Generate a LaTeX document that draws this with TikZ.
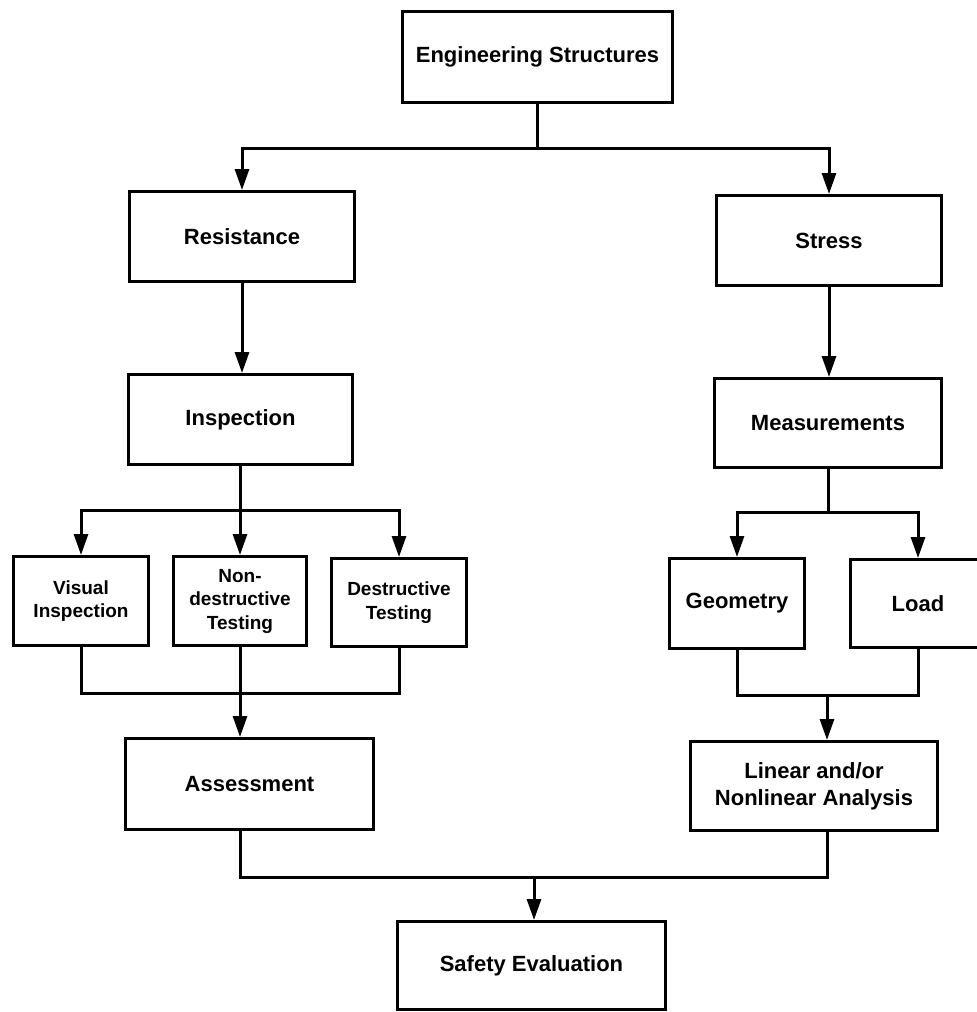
\documentclass[tikz,border=0pt]{standalone}
\usepackage{fontspec}
\setmainfont{Liberation Sans}
\usetikzlibrary{arrows.meta}
\begin{document}
\begin{tikzpicture}[x=1pt,y=-1pt,
  box/.style={draw,line width=3pt,inner sep=0pt,align=center,
    font=\bfseries\fontsize{22}{27}\selectfont},
  bigbox/.style={box},
  smallbox/.style={box,font=\bfseries\fontsize{19}{23.5}\selectfont},
  conn/.style={line width=3pt},
  arr/.style={conn,-{Triangle[length=21pt,width=14pt]}}]
\useasboundingbox (0,0) rectangle (977,1012);
% boxes
\node[bigbox,minimum width=270,minimum height=91] (eng) at (537.5,57) {Engineering Structures};
\node[bigbox,minimum width=225,minimum height=90] (res) at (242,236.5) {Resistance};
\node[bigbox,minimum width=225,minimum height=90] (str) at (829,240.5) {Stress};
\node[bigbox,minimum width=224,minimum height=90] (insp) at (240.5,419.5) {Inspection};
\node[bigbox,minimum width=227,minimum height=89] (meas) at (828,423) {Measurements};
\node[smallbox,minimum width=135,minimum height=89] (vis) at (81,601) {Visual\\Inspection};
\node[smallbox,minimum width=133,minimum height=89] (ndt) at (240,601) {Non-\\destructive\\Testing};
\node[smallbox,minimum width=135,minimum height=88] (dt) at (399,602.5) {Destructive\\Testing};
\node[bigbox,minimum width=135,minimum height=90] (geo) at (737,603.5) {Geometry};
\node[bigbox,minimum width=135,minimum height=88] (load) at (918,603.5) {Load};
\node[bigbox,minimum width=248,minimum height=91] (ass) at (249.5,784) {Assessment};
\node[bigbox,minimum width=247,minimum height=89] (lin) at (814,786) {Linear and/or\\Nonlinear Analysis};
\node[bigbox,minimum width=268,minimum height=88] (saf) at (531.5,965.5) {Safety Evaluation};
% junctions
\coordinate (j1) at (537.5,148);
\coordinate (j2) at (240,510);
\coordinate (j3) at (828,512);
\coordinate (j4) at (240,693);
\coordinate (j5) at (827,695);
\coordinate (j6) at (534,877);
% connectors
\draw[conn] (eng.south) -- (j1);
\draw[arr] (j1) -| (res.north);
\draw[arr] (j1) -| (str.north);
\draw[arr] (res.south) -- (res.south |- insp.north);
\draw[arr] (str.south) -- (str.south |- meas.north);
\draw[conn] (insp.south -| j2) -- (j2);
\draw[arr] (j2) -| (vis.north);
\draw[arr] (j2) -- (ndt.north);
\draw[arr] (j2) -| (dt.north);
\draw[conn] (meas.south -| j3) -- (j3);
\draw[arr] (j3) -| (geo.north);
\draw[arr] (j3) -| (load.north);
\draw[conn] (vis.south) |- (j4) -| (dt.south);
\draw[arr] (ndt.south) -- (ndt.south |- ass.north);
\draw[conn] (geo.south) |- (j5) -| (load.south);
\draw[arr] (j5) -- (j5 |- lin.north);
\draw[conn] (ass.south -| j4) |- (j6) -| (lin.south -| j5);
\draw[arr] (j6) -- (j6 |- saf.north);
\end{tikzpicture}
\end{document}
